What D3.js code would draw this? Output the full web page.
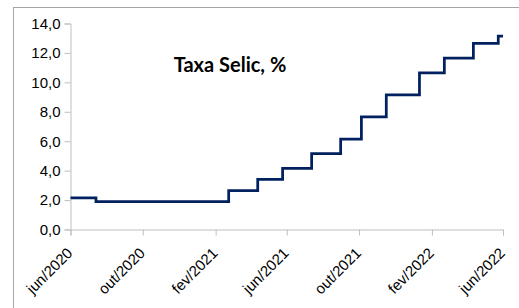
<!DOCTYPE html>
<html>
<head>
<meta charset="utf-8">
<script src="https://cdn.jsdelivr.net/npm/d3@7"></script>
<style>
  body { margin: 0; background: #fff; }
  svg { display: block; font-family: Lato, "Open Sans", sans-serif; }
</style>
</head>
<body>
<script>
var width = 519;
var height = 308;

// Selic efetiva, datas das mudanças
var dates = ["2020-06-24", "2020-08-06", "2021-03-18", "2021-05-06", "2021-06-17", "2021-08-05",
    "2021-09-23", "2021-10-28", "2021-12-09", "2022-02-03", "2022-03-17", "2022-05-05",
    "2022-06-16", "2022-06-24"];
var selic = [2.15, 1.90, 2.65, 3.40, 4.15, 5.15, 6.15, 7.65, 9.15, 10.65, 11.65, 12.65, 13.15, 13.15];

var tickDates = ["2020-06-24", "2020-10-24", "2021-02-24", "2021-06-24", "2021-10-24", "2022-02-24", "2022-06-24"];
var tickLabels = ["jun/2020", "out/2020", "fev/2021", "jun/2021", "out/2021", "fev/2022", "jun/2022"];
var yTicks = [0, 2, 4, 6, 8, 10, 12, 14];

var parse = d3.timeParse("%Y-%m-%d");
var data = dates.map((d, i) => ({ date: parse(d), value: selic[i] }));

var margin = { top: 23.5, right: 16, bottom: 78.5, left: 70.5 };

var svg = d3.select("body").append("svg")
    .attr("width", width)
    .attr("height", height);

// moldura
svg.append("rect")
    .attr("x", 13.5).attr("y", 7.5)
    .attr("width", 600).attr("height", 400)
    .attr("fill", "#fff")
    .attr("stroke", "#a6a6a6");

var x = d3.scaleTime()
    .domain([parse(tickDates[0]), parse(tickDates[tickDates.length - 1])])
    .range([margin.left, width - margin.right]);

var y = d3.scaleLinear()
    .domain([0, 14])
    .range([height - margin.bottom, margin.top]);

var yAxis = svg.append("g")
    .attr("transform", `translate(${margin.left},0)`)
    .call(d3.axisLeft(y).tickValues(yTicks).tickSize(6).tickPadding(4)
        .tickFormat((d) => d3.format(".1f")(d).replace(".", ",")));

var xAxis = svg.append("g")
    .attr("transform", `translate(0,${height - margin.bottom})`)
    .call(d3.axisBottom(x).tickValues(tickDates.map(parse)).tickSize(6)
        .tickFormat((d, i) => tickLabels[i]));

[yAxis, xAxis].forEach((g) => {
    g.select(".domain").attr("stroke", "#bfbfbf");
    g.selectAll(".tick line").attr("stroke", "#bfbfbf");
    g.selectAll(".tick text").attr("fill", "#000").style("font-size", "15px");
});

xAxis.selectAll(".tick text")
    .attr("text-anchor", "end")
    .attr("x", 0).attr("y", 0)
    .attr("dx", 0).attr("dy", 0)
    .attr("transform", "translate(2.5,24.5) rotate(-45)");

var line = d3.line()
    .x((d) => x(d.date))
    .y((d) => y(d.value))
    .curve(d3.curveStepAfter);

svg.append("path")
    .datum(data)
    .attr("fill", "none")
    .attr("stroke", "#002060")
    .attr("stroke-width", 2.75)
    .attr("d", line);

svg.append("text")
    .attr("x", 230)
    .attr("y", 72)
    .attr("text-anchor", "middle")
    .style("font-size", "20px")
    .style("font-weight", "bold")
    .text("Taxa Selic, %");
</script>
</body>
</html>
